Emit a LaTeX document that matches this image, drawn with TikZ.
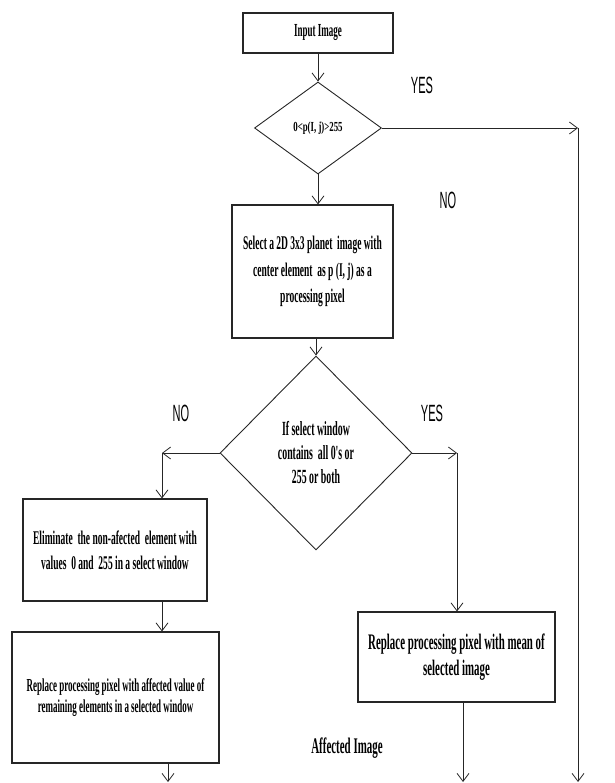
\documentclass[tikz,border=0pt]{standalone}
\usepackage{fontspec}
\setmainfont{Liberation Serif}
\newfontfamily\narrowserif{Liberation Serif}[FakeStretch=0.49]
\newfontfamily\diafont{Liberation Serif}[FakeStretch=0.64]
\newfontfamily\labelfont{Liberation Sans}[FakeStretch=0.47]
\usetikzlibrary{arrows.meta,shapes.geometric}

\begin{document}
\begin{tikzpicture}[x=1pt,y=-1pt,
  flow/.style={draw=black!85, line width=0.9pt},
  arr/.style={flow, -{Straight Barb[length=8pt,width=12pt,line width=0.8pt]}},
  box/.style={draw=black!85, line width=1.1pt, inner sep=0pt, align=center,
              font=\narrowserif\bfseries},
  decision/.style={draw=black!85, line width=0.9pt, diamond, inner sep=0pt,
              align=center, font=\narrowserif\bfseries},
  answer/.style={font=\labelfont\fontsize{23.5}{28}\selectfont, inner sep=0pt}]

\useasboundingbox (0,0) rectangle (614,783);

% process boxes
\node[box, minimum width=150pt, minimum height=40pt,
      font=\narrowserif\bfseries\fontsize{18.4}{22}\selectfont]
  (in) at (318,33) {Input Image};
\node[box, minimum width=161pt, minimum height=133pt,
      font=\narrowserif\bfseries\fontsize{19.4}{26.5}\selectfont]
  (b2) at (312.5,271.5) {Select a 2D 3x3 planet\ \ image with\\center element\ \ as p (I, j) as a\\processing pixel};
\node[box, minimum width=184pt, minimum height=102pt,
      font=\narrowserif\bfseries\fontsize{19.4}{25}\selectfont]
  (b3) at (115,550) {Eliminate\ \ the non-afected\ \ element with\\values\ \ 0 and\ \ 255 in a select window};
\node[box, minimum width=207pt, minimum height=131pt,
      font=\narrowserif\bfseries\fontsize{18.3}{21.5}\selectfont]
  (b5) at (115.5,697.5) {Replace processing pixel with affected value of\\remaining elements in a selected window};
\node[box, minimum width=197pt, minimum height=90pt,
      font=\narrowserif\bfseries\fontsize{22.2}{26.5}\selectfont]
  (b4) at (456.5,657) {Replace processing pixel with mean of\\selected image};

% decisions
\node[decision, minimum width=127pt, minimum height=92pt,
      font=\diafont\bfseries\fontsize{13.8}{16}\selectfont]
  (d1) at (318,128) {0<p(I, j)>255};
\node[decision, minimum width=192pt, minimum height=194pt,
      font=\narrowserif\bfseries\fontsize{20.1}{24}\selectfont]
  (d2) at (316,453) {If select window\\contains\ \ all 0's or\\255 or both};

% branch labels
\node[answer] (yes1) at (422,85) {YES};
\node[answer] (no1) at (448,200) {NO};
\node[answer] (no2) at (181,413) {NO};
\node[answer] (yes2) at (432,413) {YES};
\node[font=\narrowserif\bfseries\fontsize{22.3}{25}\selectfont, inner sep=0pt]
  (aff) at (347,748) {Affected Image};

% bends and loose ends
\coordinate (cR1) at (578,128);
\coordinate (endR1) at (578,782);
\coordinate (cL) at (162,453);
\coordinate (cR2) at (457,453);
\coordinate (mid3) at (162,0);
\coordinate (end5) at (168,782);
\coordinate (end4) at (463,782);

% connectors
\draw[arr] (in.south) -- (d1.north);
\draw[arr] (d1.south) -- (d1.south |- b2.north);
\draw[arr] (d1.east) -- (cR1);
\draw[arr] (cR1) -- (endR1);
\draw[arr] (d2.north |- b2.south) -- (d2.north);
\draw[arr] (d2.west) -- (cL);
\draw[arr] (cL) -- (cL |- b3.north);
\draw[arr] (d2.east) -- (cR2);
\draw[arr] (cR2) -- (cR2 |- b4.north);
\draw[arr] (mid3 |- b3.south) -- (mid3 |- b5.north);
\draw[arr] (end5 |- b5.south) -- (end5);
\draw[arr] (end4 |- b4.south) -- (end4);
\end{tikzpicture}
\end{document}
